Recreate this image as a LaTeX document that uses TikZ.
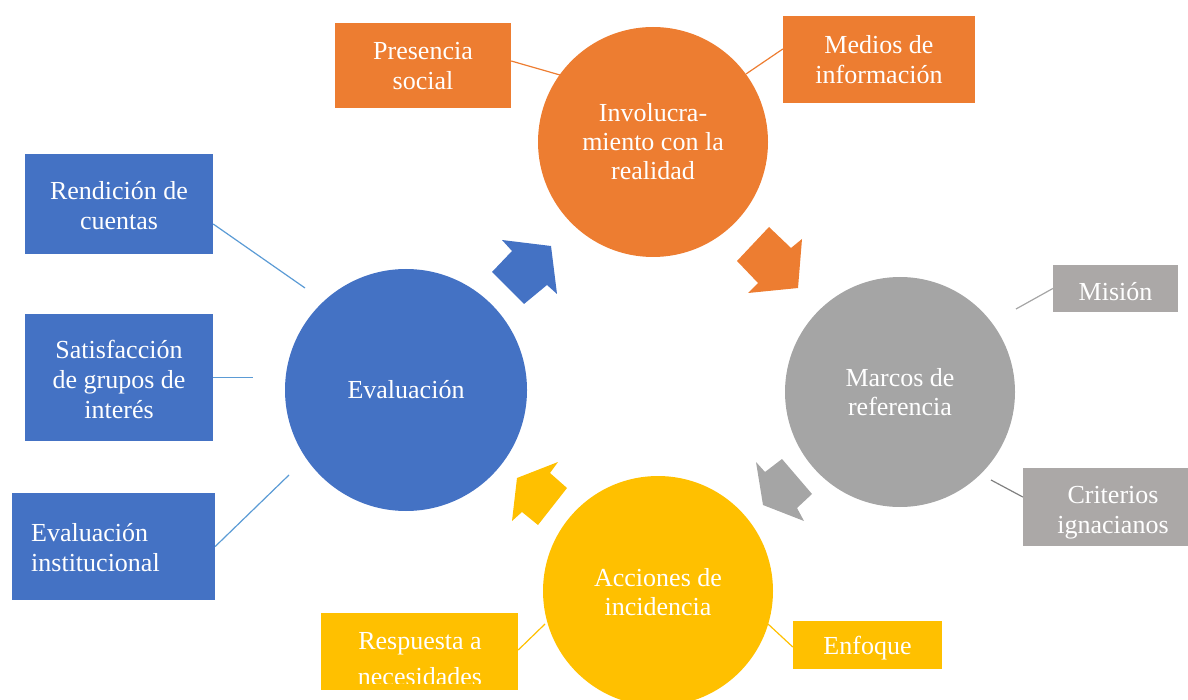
\documentclass[tikz,border=0pt]{standalone}
\usepackage{fontspec}
\setmainfont{Liberation Serif}
\definecolor{cblue}{HTML}{4472C4}
\definecolor{corange}{HTML}{ED7D31}
\definecolor{cgray}{HTML}{A5A5A5}
\definecolor{cbox}{HTML}{ABA8A7}
\definecolor{cyellow}{HTML}{FFC000}
\definecolor{clblue}{HTML}{5B9BD5}
\definecolor{cdgray}{HTML}{808080}
\begin{document}
\begin{tikzpicture}[x=1pt,y=-1pt,
  txt/.style={text=white,font=\fontsize{26}{30}\selectfont,align=center,inner sep=0pt},
  ctxt/.style={text=white,font=\fontsize{26}{29}\selectfont,align=center,inner sep=0pt},
  bigc/.style={circle,fill=#1,inner sep=0pt},
  box/.style={rectangle,fill=#1,inner sep=0pt},
  conn/.style={draw=#1,line width=1.2pt},
  blk/.style={fill=#1}]
\useasboundingbox (0,0) rectangle (1188,700);

% circles
\node[bigc=corange,minimum size=230pt] (inv) at (653,142) {};
\node[ctxt] (invt) at (653,142) {Involucra-\\miento con la\\realidad};
\node[bigc=cgray,minimum size=230pt] (marc) at (900,392) {};
\node[ctxt] (marct) at (900,392) {Marcos de\\referencia};
\node[bigc=cyellow,minimum size=230pt] (acc) at (658,591) {};
\node[ctxt] (acct) at (658,592) {Acciones de\\incidencia};
\node[bigc=cblue,minimum size=242pt] (eval) at (406,390) {};
\node[ctxt] (evalt) at (406,390) {Evaluación};

% block arrows
\fill[blk=cblue] (492,272) -- (512,251) -- (502,240) -- (551,246) -- (557,294) -- (547,285) -- (524,304) -- cycle;
\fill[blk=corange] (769,227) -- (791,248) -- (802,239) -- (798,288) -- (748,293) -- (758,283) -- (737,261) -- cycle;
\fill[blk=cgray] (756,462) -- (765,472) -- (782,459) -- (812,494) -- (797,508) -- (804,521) -- (763,505) -- cycle;
\fill[blk=cyellow] (558,462) -- (550,473) -- (567,488) -- (538,525) -- (522,512) -- (512,521) -- (517,478) -- cycle;

% boxes
\node[box=corange,minimum width=176pt,minimum height=85pt] (pres) at (423,65.5) {};
\node[txt] (prest) at (423,66) {Presencia\\social};
\node[box=corange,minimum width=192pt,minimum height=87pt] (medios) at (879,59.5) {};
\node[txt] (mediost) at (879,60) {Medios de\\información};
\node[box=cblue,minimum width=188pt,minimum height=100pt] (rend) at (119,204) {};
\node[txt] (rendt) at (119,206) {Rendición de\\cuentas};
\node[box=cblue,minimum width=188pt,minimum height=127pt] (satis) at (119,377.5) {};
\node[txt] (satist) at (119,379) {Satisfacción\\de grupos de\\interés};
\node[box=cblue,minimum width=203pt,minimum height=107pt] (evinst) at (113.5,546.5) {};
\node[txt,align=left,anchor=west] (evinstt) at (31,548) {Evaluación\\institucional};
\node[box=cbox,minimum width=125pt,minimum height=47pt] (mision) at (1115.5,288.5) {};
\node[txt] (misiont) at (1115.5,292) {Misión};
\node[box=cbox,minimum width=165pt,minimum height=78pt] (crit) at (1105.5,507) {};
\node[txt] (critt) at (1113,513) {Criterios\\ignacianos};
\node[box=cyellow,minimum width=197pt,minimum height=77pt] (resp) at (419.5,651.5) {};
\begin{scope}
\clip (321,613) rectangle (518,683);
\node[text=white,font=\fontsize{26}{36}\selectfont,align=center,inner sep=0pt] (respt) at (420,659) {Respuesta a\\necesidades};
\end{scope}
\node[box=cyellow,minimum width=149pt,minimum height=48pt] (enf) at (867.5,645) {};
\node[txt] (enft) at (867.5,648) {Enfoque};

% connector free ends
\coordinate (e1) at (560,75);
\coordinate (e2) at (746,74);
\coordinate (e3) at (305,288);
\coordinate (e4) at (253,377.5);
\coordinate (e5) at (289,475);
\coordinate (e6) at (1016,309);
\coordinate (e7) at (991,480);
\coordinate (e8) at (545,624);
\coordinate (e9) at (768,624);

\draw[conn=corange] ([yshift=4.5pt]pres.east) -- (e1);
\draw[conn=corange] ([yshift=10.5pt]medios.west) -- (e2);
\draw[conn=clblue] ([yshift=-20pt]rend.east) -- (e3);
\draw[conn=clblue] (satis.east) -- (e4);
\draw[conn=clblue] (evinst.east) -- (e5);
\draw[conn=cgray] (mision.west) -- (e6);
\draw[conn=cdgray] ([yshift=10pt]crit.west) -- (e7);
\draw[conn=cyellow] ([yshift=1.5pt]resp.east) -- (e8);
\draw[conn=cyellow] ([yshift=-2pt]enf.west) -- (e9);
\end{tikzpicture}
\end{document}
